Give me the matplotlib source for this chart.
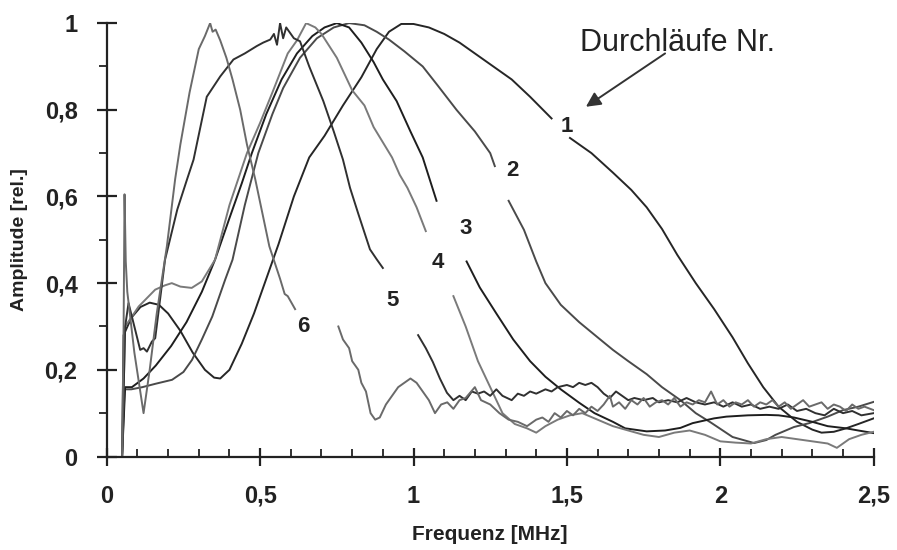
import matplotlib
matplotlib.use('Agg')
import numpy as np
import matplotlib.pyplot as plt
from matplotlib.ticker import MultipleLocator

nan = np.nan

# Durchlauf 1 (black, peak ~0.95 MHz)
x1 = [0.05, 0.055, 0.08, 0.11, 0.14, 0.17, 0.20, 0.24, 0.28, 0.32, 0.35, 0.37, 0.40, 0.44, 0.48,
      0.52, 0.56, 0.61, 0.66, 0.71, 0.77, 0.83, 0.88, 0.92, 0.96, 1.00, 1.05, 1.10, 1.15, 1.20,
      1.25, 1.32, 1.38, 1.45, nan, 1.51, 1.58, 1.65, 1.71, 1.76, 1.81, 1.86, 1.92, 1.98, 2.04,
      2.09, 2.14, 2.19, 2.25, 2.30, 2.33, 2.37, 2.41, 2.45, 2.50]
y1 = [0.0, 0.28, 0.32, 0.345, 0.355, 0.35, 0.33, 0.29, 0.24, 0.20, 0.182, 0.18, 0.20, 0.26, 0.33,
      0.41, 0.49, 0.60, 0.69, 0.74, 0.81, 0.875, 0.94, 0.98, 0.998, 0.998, 0.99, 0.975, 0.955, 0.93,
      0.905, 0.87, 0.83, 0.78, nan, 0.735, 0.70, 0.655, 0.615, 0.575, 0.525, 0.465, 0.40, 0.34, 0.275,
      0.215, 0.16, 0.115, 0.08, 0.062, 0.055, 0.057, 0.065, 0.075, 0.088]

# Durchlauf 2 (dark grey, peak ~0.8 MHz)
x2 = [0.05, 0.058, 0.08, 0.116, 0.16, 0.213, 0.25, 0.278, 0.31, 0.344, 0.386, 0.41, 0.45, 0.494,
      0.54, 0.575, 0.63, 0.685, 0.74, 0.79, 0.84, 0.88, 0.92, 0.97, 1.03, 1.08, 1.14, 1.20, 1.25,
      1.265, nan, 1.31, 1.36, 1.40, 1.43, 1.48, 1.54, 1.60, 1.65, 1.70, 1.76, 1.81, 1.87, 1.92,
      1.97, 2.04, 2.11, 2.15, 2.18, 2.24, 2.29, 2.35, 2.40, 2.45, 2.50]
y2 = [0.0, 0.155, 0.155, 0.16, 0.168, 0.177, 0.195, 0.223, 0.27, 0.323, 0.408, 0.454, 0.58, 0.70,
      0.79, 0.85, 0.92, 0.965, 0.99, 1.0, 0.995, 0.98, 0.962, 0.935, 0.90, 0.855, 0.80, 0.75, 0.70,
      0.67, nan, 0.59, 0.523, 0.45, 0.40, 0.35, 0.31, 0.275, 0.246, 0.22, 0.19, 0.16, 0.13, 0.10,
      0.078, 0.045, 0.031, 0.038, 0.05, 0.068, 0.077, 0.092, 0.107, 0.115, 0.126]

# Durchlauf 3 (black, peak ~0.75 MHz)
x3 = [0.05, 0.06, 0.082, 0.12, 0.16, 0.21, 0.26, 0.31, 0.353, 0.40, 0.44, 0.473, 0.52, 0.57,
      0.62, 0.67, 0.71, 0.75, 0.79, 0.83, 0.87, 0.90, 0.945, 0.99, 1.03, 1.075, nan, 1.173, 1.216,
      1.27, 1.325, 1.38, 1.43, 1.48, 1.54, 1.59, 1.65, 1.69, 1.76, 1.82, 1.87, 1.91, 1.98, 2.02,
      2.09, 2.15, 2.19, 2.24, 2.30, 2.35, 2.41, 2.45, 2.50]
y3 = [0.0, 0.16, 0.16, 0.18, 0.21, 0.255, 0.31, 0.38, 0.454, 0.55, 0.63, 0.70, 0.79, 0.87,
      0.93, 0.97, 0.99, 1.0, 0.99, 0.955, 0.91, 0.87, 0.82, 0.75, 0.69, 0.59, nan, 0.45, 0.39,
      0.33, 0.27, 0.22, 0.184, 0.155, 0.124, 0.10, 0.08, 0.065, 0.058, 0.06, 0.066, 0.077, 0.088, 0.092,
      0.095, 0.096, 0.095, 0.09, 0.08, 0.07, 0.065, 0.06, 0.054]

# Durchlauf 4 (grey, peak ~0.65 MHz)
x4 = [0.05, 0.06, 0.104, 0.158, 0.19, 0.212, 0.24, 0.277, 0.31, 0.353, 0.40, 0.457, 0.50, 0.54,
      0.59, 0.62, 0.65, 0.68, 0.70, 0.75, 0.80, 0.84, 0.87, 0.90, 0.93, 0.955, 0.98, 1.01, 1.04,
      nan, 1.13, 1.17, 1.21, 1.25, 1.29, 1.33, 1.37, 1.40, 1.43, 1.47, 1.51, 1.55, 1.60, 1.65,
      1.70, 1.75, 1.80, 1.85, 1.90, 1.95, 2.00, 2.05, 2.10, 2.15, 2.20, 2.25, 2.30, 2.35, 2.38,
      2.42, 2.46, 2.50]
y4 = [0.0, 0.30, 0.346, 0.385, 0.395, 0.40, 0.392, 0.389, 0.404, 0.454, 0.58, 0.70, 0.77, 0.84,
      0.93, 0.96, 1.0, 0.99, 0.975, 0.92, 0.845, 0.81, 0.76, 0.725, 0.69, 0.65, 0.62, 0.575, 0.52,
      nan, 0.37, 0.30, 0.22, 0.16, 0.10, 0.075, 0.065, 0.055, 0.07, 0.085, 0.095, 0.10, 0.085, 0.07,
      0.06, 0.05, 0.045, 0.055, 0.06, 0.05, 0.035, 0.032, 0.03, 0.04, 0.045, 0.04, 0.035, 0.03, 0.02,
      0.04, 0.05, 0.057]

# Durchlauf 5 (dark, noisy, peak ~0.57 MHz)
x5 = [0.05, 0.06, 0.071, 0.09, 0.109, 0.12, 0.131, 0.147, 0.158, 0.19, 0.23, 0.262, 0.283, 0.326,
      0.37, 0.413, 0.45, 0.489, 0.51, 0.533, 0.545, 0.555, 0.565, 0.575, 0.585, 0.598, 0.61, 0.63,
      0.66, 0.706, 0.74, 0.77, 0.793, 0.82, 0.858, 0.88, 0.90, nan, 1.015, 1.04, 1.063, 1.086,
      1.109, 1.13, 1.15, 1.17, 1.19, 1.21, 1.23, 1.25, 1.27, 1.29, 1.32, 1.34, 1.36, 1.38, 1.40,
      1.43, 1.45, 1.47, 1.50, 1.52, 1.54, 1.56, 1.58, 1.60, 1.62, 1.64, 1.66, 1.68, 1.70, 1.72,
      1.75, 1.78, 1.80, 1.83, 1.86, 1.89, 1.92, 1.95, 1.98, 2.01, 2.04, 2.07, 2.10, 2.13, 2.16,
      2.19, 2.22, 2.25, 2.28, 2.31, 2.34, 2.37, 2.40, 2.43, 2.46, 2.50]
y5 = [0.0, 0.30, 0.354, 0.30, 0.246, 0.25, 0.242, 0.265, 0.273, 0.454, 0.57, 0.64, 0.685, 0.83,
      0.877, 0.916, 0.93, 0.947, 0.955, 0.962, 0.975, 0.95, 1.0, 0.965, 0.99, 0.977, 0.965, 0.958,
      0.90, 0.82, 0.75, 0.685, 0.62, 0.56, 0.478, 0.455, 0.435, nan, 0.28, 0.25, 0.218, 0.18,
      0.147, 0.13, 0.14, 0.13, 0.15, 0.145, 0.15, 0.14, 0.155, 0.14, 0.13, 0.145, 0.14, 0.15, 0.145,
      0.155, 0.15, 0.16, 0.165, 0.16, 0.17, 0.165, 0.17, 0.16, 0.145, 0.135, 0.15, 0.14, 0.13, 0.135,
      0.13, 0.135, 0.125, 0.13, 0.125, 0.135, 0.125, 0.12, 0.125, 0.115, 0.125, 0.115, 0.12, 0.11, 0.115,
      0.11, 0.12, 0.105, 0.11, 0.10, 0.095, 0.11, 0.10, 0.105, 0.095, 0.10]

# Durchlauf 6 (grey, spike at start, peak ~0.34 MHz)
x6 = [0.05, 0.055, 0.058, 0.062, 0.067, 0.09, 0.12, 0.14, 0.163, 0.196, 0.223, 0.24, 0.27, 0.30,
      0.32, 0.337, 0.345, 0.355, 0.37, 0.39, 0.41, 0.435, 0.457, 0.484, 0.53, 0.565, 0.58, 0.59,
      0.614, nan, 0.755, 0.77, 0.79, 0.80, 0.82, 0.83, 0.845, 0.86, 0.875, 0.89, 0.91, 0.93, 0.95,
      0.97, 0.99, 1.01, 1.03, 1.05, 1.07, 1.09, 1.11, 1.13, 1.15, 1.17, 1.20, 1.22, 1.25, 1.28,
      1.31, 1.34, 1.37, 1.40, 1.42, 1.44, 1.46, 1.48, 1.50, 1.52, 1.54, 1.56, 1.58, 1.60, 1.62,
      1.64, 1.65, 1.67, 1.69, 1.71, 1.73, 1.75, 1.77, 1.79, 1.81, 1.83, 1.85, 1.87, 1.89, 1.91,
      1.93, 1.95, 1.97, 1.99, 2.01, 2.03, 2.05, 2.07, 2.09, 2.11, 2.13, 2.15, 2.17, 2.19, 2.21,
      2.23, 2.25, 2.27, 2.29, 2.31, 2.33, 2.35, 2.37, 2.39, 2.41, 2.43, 2.45, 2.47, 2.50]
y6 = [0.0, 0.30, 0.605, 0.45, 0.38, 0.24, 0.10, 0.20, 0.33, 0.485, 0.64, 0.72, 0.84, 0.94,
      0.97, 1.0, 0.98, 0.985, 0.96, 0.92, 0.87, 0.80, 0.72, 0.64, 0.485, 0.41, 0.375, 0.37,
      0.34, nan, 0.30, 0.27, 0.25, 0.22, 0.20, 0.17, 0.15, 0.10, 0.085, 0.09, 0.12, 0.14, 0.16,
      0.17, 0.18, 0.17, 0.15, 0.13, 0.10, 0.12, 0.125, 0.11, 0.13, 0.135, 0.16, 0.13, 0.12, 0.10,
      0.085, 0.08, 0.07, 0.085, 0.09, 0.08, 0.10, 0.09, 0.105, 0.095, 0.11, 0.10, 0.115, 0.105, 0.12,
      0.14, 0.115, 0.125, 0.11, 0.13, 0.12, 0.135, 0.115, 0.125, 0.13, 0.12, 0.135, 0.115, 0.125, 0.12,
      0.13, 0.125, 0.15, 0.12, 0.13, 0.115, 0.125, 0.12, 0.13, 0.115, 0.125, 0.12, 0.13, 0.115, 0.125,
      0.11, 0.12, 0.13, 0.115, 0.12, 0.125, 0.11, 0.12, 0.115, 0.105, 0.12, 0.11, 0.115, 0.107]

curves = [(x1, y1, '#262626'), (x2, y2, '#4a4a4a'), (x3, y3, '#1e1e1e'),
          (x4, y4, '#7a7a7a'), (x5, y5, '#303030'), (x6, y6, '#6a6a6a')]

# curve numbers and where they sit
nums = ['1', '2', '3', '4', '5', '6']
num_x = [1.50, 1.321, 1.171, 1.08, 0.93, 0.64]
num_y = [0.761, 0.659, 0.527, 0.447, 0.361, 0.30]

xticks = [0, 0.5, 1, 1.5, 2, 2.5]
xticklabels = ['0', '0,5', '1', '1,5', '2', '2,5']
yticks = [0, 0.2, 0.4, 0.6, 0.8, 1]
yticklabels = ['0', '0,2', '0,4', '0,6', '0,8', '1']

lab_font = ['Liberation Sans', 'DejaVu Sans']

fig = plt.figure(figsize=(8.97, 5.5), dpi=100)
ax = fig.add_axes([0.119, 0.170, 0.855, 0.788])

for xs, ys, c in curves:
    ax.plot(xs, ys, color=c, lw=1.4)

ax.set_xlim(0, 2.5)
ax.set_ylim(0, 1)
for s in ['top', 'right']:
    ax.spines[s].set_visible(False)
for s in ['left', 'bottom']:
    ax.spines[s].set_linewidth(1.6)
    ax.spines[s].set_color('#222222')

ax.set_xticks(xticks)
ax.set_xticklabels(xticklabels)
ax.set_yticks(yticks)
ax.set_yticklabels(yticklabels)
ax.xaxis.set_minor_locator(MultipleLocator(0.1))
ax.yaxis.set_minor_locator(MultipleLocator(0.1))
ax.tick_params(axis='x', which='major', direction='inout', length=13, width=1.6, pad=14,
               color='#222222')
ax.tick_params(axis='x', which='minor', direction='in', length=6, width=1.3, color='#222222')
ax.tick_params(axis='y', which='major', direction='inout', length=14, width=1.6, pad=14,
               color='#222222')
ax.tick_params(axis='y', which='minor', direction='out', length=6, width=1.3, color='#222222')
for t in ax.get_xticklabels() + ax.get_yticklabels():
    t.set_fontfamily(lab_font)
    t.set_fontweight('bold')
    t.set_fontsize(17)
    t.set_color('#222222')

ax.set_xlabel('Frequenz [MHz]', family=lab_font, fontweight='bold', fontsize=15, color='#222222',
              labelpad=12)
ax.set_ylabel('Amplitude [rel.]', family=lab_font, fontweight='bold', fontsize=14, color='#222222',
              labelpad=12)

for n, nx, ny in zip(nums, num_x, num_y):
    ax.text(nx, ny, n, ha='center', va='center', fontsize=16, fontweight='bold',
            family=lab_font, color='#222222')

ax.text(1.862, 0.953, 'Durchläufe Nr.', ha='center', va='center', fontsize=22,
        family=lab_font, color='#222222')
ax.annotate('', xy=(1.562, 0.807), xytext=(1.82, 0.93),
            arrowprops=dict(arrowstyle='-|>', color='#333333', lw=1.4,
                            mutation_scale=22, shrinkA=0, shrinkB=0))

fig.savefig('out.png', dpi=100, facecolor='white')
